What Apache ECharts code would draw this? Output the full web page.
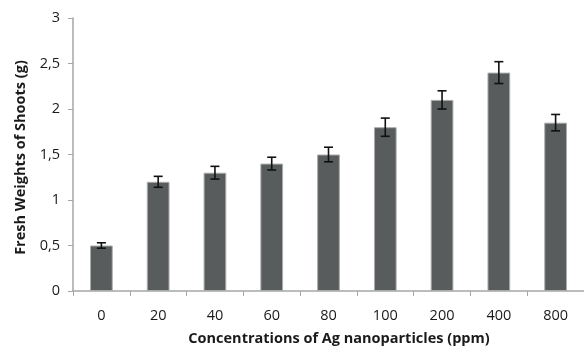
<!DOCTYPE html>
<html>
<head>
<meta charset="utf-8">
<script src="https://cdn.jsdelivr.net/npm/echarts@6/dist/echarts.min.js"></script>
<style>
  html, body { margin: 0; padding: 0; background: #fff; }
  #chart { width: 584px; height: 351px; }
</style>
</head>
<body>
<div id="chart"></div>
<script>
// Ag nanoparticle concentrations (ppm)
const categories = ['0', '20', '40', '60', '80', '100', '200', '400', '800'];
// Mean fresh weight of shoots (g)
const freshWeights = [0.5, 1.2, 1.3, 1.4, 1.5, 1.8, 2.1, 2.4, 1.85];
// Standard error for each mean (g)
const stdErrors = [0.03, 0.06, 0.07, 0.07, 0.08, 0.1, 0.1, 0.12, 0.09];

const FONT = 'Open Sans';
const errorData = freshWeights.map((v, i) => [i, v - stdErrors[i], v + stdErrors[i]]);

const chart = echarts.init(document.getElementById('chart'));
chart.setOption({
  animation: false,
  backgroundColor: '#ffffff',
  grid: { left: 73, right: -7, top: 18, bottom: 58 },
  xAxis: {
    type: 'category',
    data: categories,
    name: 'Concentrations of Ag nanoparticles (ppm)',
    nameLocation: 'middle',
    nameGap: 40,
    nameTextStyle: { fontFamily: FONT, fontWeight: 'bold', fontSize: 14.5, color: '#1a1a1a', padding: [0, 0, 0, 21] },
    axisLine: { lineStyle: { color: '#a6a6a6', width: 1.5 } },
    axisTick: { show: true, length: 5, lineStyle: { color: '#a6a6a6' } },
    axisLabel: { fontFamily: FONT, fontSize: 14.5, color: '#1a1a1a', margin: 17 }
  },
  yAxis: {
    type: 'value',
    min: 0,
    max: 3,
    interval: 0.5,
    name: 'Fresh Weights of Shoots (g)',
    nameLocation: 'middle',
    nameGap: 37,
    nameRotate: 90,
    nameTextStyle: { fontFamily: FONT, fontWeight: 'bold', fontSize: 14.5, color: '#1a1a1a', padding: [0, 6, 0, 0] },
    axisLine: { show: true, lineStyle: { color: '#a6a6a6', width: 1.5 } },
    axisTick: { show: true, length: 5, lineStyle: { color: '#a6a6a6' } },
    splitLine: { show: false },
    axisLabel: {
      fontFamily: FONT, fontSize: 14.5, color: '#1a1a1a', margin: 13,
      formatter: v => String(v).replace('.', ',')
    }
  },
  series: [
    {
      type: 'bar',
      data: freshWeights,
      barWidth: '40%',
      itemStyle: { color: '#585c5c', borderColor: '#a9acac', borderWidth: 1 }
    },
    {
      type: 'custom',
      data: errorData,
      z: 10,
      renderItem: (params, api) => {
        const i = api.value(0);
        const lo = api.coord([i, api.value(1)]);
        const hi = api.coord([i, api.value(2)]);
        const half = 4.5;
        const style = { stroke: '#111', lineWidth: 1.6 };
        return {
          type: 'group',
          children: [
            { type: 'line', shape: { x1: lo[0], y1: lo[1], x2: hi[0], y2: hi[1] }, style },
            { type: 'line', shape: { x1: lo[0] - half, y1: lo[1], x2: lo[0] + half, y2: lo[1] }, style },
            { type: 'line', shape: { x1: hi[0] - half, y1: hi[1], x2: hi[0] + half, y2: hi[1] }, style }
          ]
        };
      }
    }
  ]
});
</script>
</body>
</html>
